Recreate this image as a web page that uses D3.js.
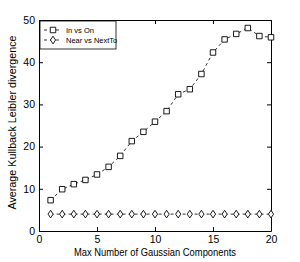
<!DOCTYPE html>
<html>
<head>
<meta charset="utf-8">
<script src="https://cdn.jsdelivr.net/npm/d3@7"></script>
<style>
  body { margin: 0; background: #fff; }
  svg text { font-family: "Liberation Sans", Arial, sans-serif; }
</style>
</head>
<body>
<div id="chart"></div>
<script>
const components = d3.range(1, 21);
const inVsOn = [7.3, 9.9, 11.1, 12.1, 13.4, 15.2, 17.8, 21.3, 23.5, 25.9,
                28.4, 32.4, 33.6, 37.2, 42.3, 45.4, 46.7, 48.1, 46.2, 45.9];
const nearVsNextTo = [4.0, 4.0, 4.0, 4.0, 4.0, 4.0, 4.0, 4.0, 4.0, 4.0,
                      4.0, 4.0, 4.0, 4.0, 4.0, 4.0, 4.0, 4.0, 4.0, 4.0];
const xTicks = [0, 5, 10, 15, 20];
const yTicks = [0, 10, 20, 30, 40, 50];
const seriesNames = ["In vs On", "Near vs NextTo"];

const margin = { top: 20, right: 29, bottom: 31, left: 39 },
    width = 300 - margin.left - margin.right,
    height = 262 - margin.top - margin.bottom;

const svg = d3.select("#chart").append("svg")
    .attr("width", 300)
    .attr("height", 262)
    .append("g")
    .attr("transform", "translate(" + margin.left + "," + margin.top + ")");

const x = d3.scaleLinear().domain([0, 20]).range([0, width]);
const y = d3.scaleLinear().domain([0, 50]).range([height, 0]);

// axes with inward ticks, mirrored on top/right
svg.append("g")
    .attr("transform", "translate(0," + height + ")")
    .call(d3.axisBottom(x).tickValues(xTicks).tickSizeInner(-4).tickSizeOuter(0).tickPadding(5))
    .call(g => g.selectAll("text").attr("font-size", 10.5).attr("fill", "#000"));
svg.append("g")
    .call(d3.axisLeft(y).tickValues(yTicks).tickSizeInner(-4).tickSizeOuter(0).tickPadding(4))
    .call(g => g.selectAll("text").attr("font-size", 10.5).attr("fill", "#000"));
svg.append("g")
    .call(d3.axisTop(x).tickValues(xTicks).tickSizeInner(-4).tickSizeOuter(0).tickFormat(""));
svg.append("g")
    .attr("transform", "translate(" + width + ",0)")
    .call(d3.axisRight(y).tickValues(yTicks).tickSizeInner(-4).tickSizeOuter(0).tickFormat(""));
svg.selectAll(".domain, .tick line").attr("stroke", "#000");

const line = d3.line().x(d => x(d[0])).y(d => y(d[1]));
const dataA = components.map((c, i) => [c, inVsOn[i]]);
const dataB = components.map((c, i) => [c, nearVsNextTo[i]]);

[dataA, dataB].forEach(d => {
    svg.append("path")
        .datum(d)
        .attr("d", line)
        .attr("fill", "none")
        .attr("stroke", "#000")
        .attr("stroke-width", 0.8)
        .attr("stroke-dasharray", "3,3");
});

const square = d3.symbol().type(d3.symbolSquare).size(30);
const diamond = "M0,-3.8L2.6,0L0,3.8L-2.6,0Z";

svg.selectAll(".sq").data(dataA).enter().append("path")
    .attr("transform", d => "translate(" + x(d[0]) + "," + y(d[1]) + ")")
    .attr("d", square)
    .attr("fill", "#fff")
    .attr("stroke", "#000")
    .attr("stroke-width", 0.9);

svg.selectAll(".dm").data(dataB).enter().append("path")
    .attr("transform", d => "translate(" + x(d[0]) + "," + y(d[1]) + ")")
    .attr("d", diamond)
    .attr("fill", "#fff")
    .attr("stroke", "#000")
    .attr("stroke-width", 0.9);

// legend
const lg = svg.append("g").attr("transform", "translate(1,1)");
lg.append("rect").attr("width", 76).attr("height", 28)
    .attr("fill", "#fff").attr("stroke", "#000").attr("stroke-width", 0.8);
seriesNames.forEach((name, i) => {
    const yy = 9 + i * 10;
    lg.append("line").attr("x1", 4).attr("x2", 22).attr("y1", yy).attr("y2", yy)
        .attr("stroke", "#000").attr("stroke-width", 0.8).attr("stroke-dasharray", "3,3");
    lg.append("path").attr("transform", "translate(13," + yy + ")")
        .attr("d", i === 0 ? square : diamond)
        .attr("fill", "#fff").attr("stroke", "#000").attr("stroke-width", 0.9);
    lg.append("text").attr("x", 26).attr("y", yy + 3)
        .attr("font-size", 7.5).text(name);
});

// axis labels
svg.append("text")
    .attr("x", width / 2).attr("y", height + 25)
    .attr("text-anchor", "middle").attr("font-size", 11)
    .attr("textLength", 162).attr("lengthAdjust", "spacingAndGlyphs")
    .text("Max Number of Gaussian Components");
svg.append("text")
    .attr("transform", "translate(" + (-23) + "," + (height / 2 - 3) + ") rotate(-90)")
    .attr("text-anchor", "middle").attr("font-size", 11)
    .attr("textLength", 174).attr("lengthAdjust", "spacingAndGlyphs")
    .text("Average Kullback Leibler divergence");
</script>
</body>
</html>
